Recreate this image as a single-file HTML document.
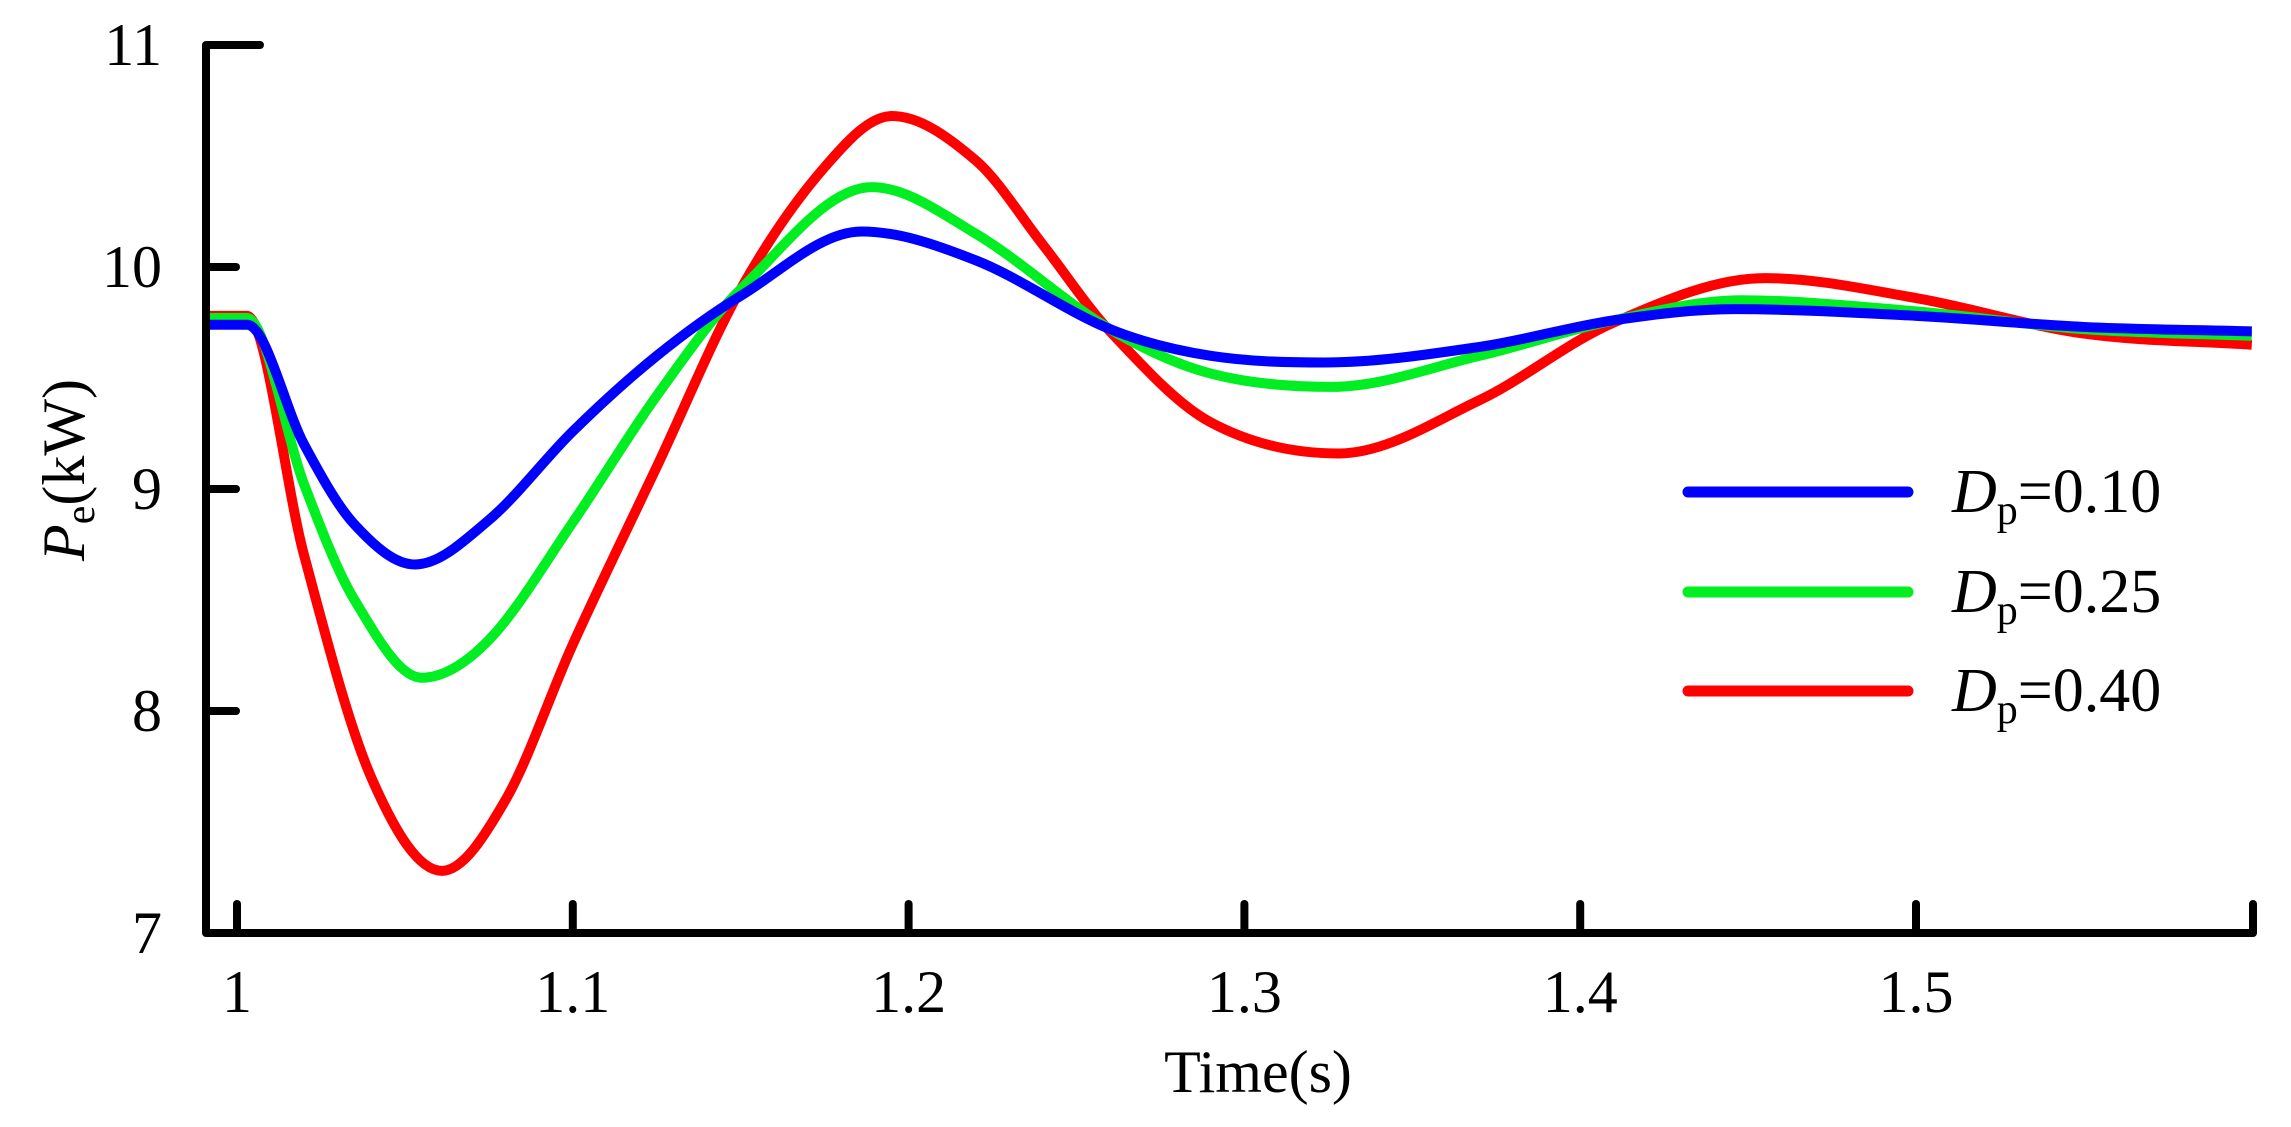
<!DOCTYPE html>
<html><head><meta charset="utf-8">
<style>
html,body{margin:0;padding:0;background:#fff;}
svg{display:block;font-family:"Liberation Serif",serif;}
</style></head>
<body>
<svg id="chart" width="2291" height="1127" viewBox="0 0 2291 1127" xmlns="http://www.w3.org/2000/svg">
<g id="series"></g>
<g id="axes"></g>
<g id="legend"></g>
<text x="1258" y="1092" font-size="60" text-anchor="middle">Time(s)</text>
<text transform="translate(84,470) rotate(-90)" font-size="60" text-anchor="middle"><tspan font-style="italic">P</tspan><tspan font-size="42" dy="10">e</tspan><tspan dy="-10">(kW)</tspan></text>
</svg>
<script>
const xTicks=[1,1.1,1.2,1.3,1.4,1.5,1.6];
const xTickLabels=["1","1.1","1.2","1.3","1.4","1.5",""];
const yTicks=[7,8,9,10,11];
const yTickLabels=["7","8","9","10","11"];
const legendValues=["0.10","0.25","0.40"];
const colors=["#0000ff","#00ee22","#ff0000"];
const tBlue=[0.991,1.003,1.02,1.035,1.053,1.075,1.1,1.125,1.15,1.186,1.22,1.26,1.29,1.324,1.37,1.41,1.446,1.5,1.55,1.6];
const vBlue=[9.74,9.74,9.2,8.84,8.66,8.86,9.26,9.6,9.87,10.16,10.03,9.72,9.6,9.57,9.64,9.76,9.81,9.78,9.73,9.71];
const tGreen=[0.991,1.003,1.02,1.035,1.055,1.075,1.1,1.125,1.15,1.189,1.22,1.26,1.29,1.326,1.37,1.41,1.448,1.5,1.55,1.6];
const vGreen=[9.77,9.77,9.02,8.5,8.15,8.32,8.85,9.42,9.9,10.36,10.15,9.72,9.52,9.46,9.6,9.76,9.85,9.8,9.72,9.69];
const tRed=[0.991,1.003,1.02,1.04,1.061,1.08,1.1,1.125,1.15,1.175,1.195,1.22,1.24,1.26,1.29,1.328,1.37,1.41,1.455,1.5,1.55,1.6];
const vRed=[9.78,9.78,8.7,7.7,7.28,7.6,8.3,9.1,9.9,10.45,10.68,10.48,10.1,9.71,9.3,9.16,9.4,9.75,9.95,9.86,9.7,9.65];

const NS="http://www.w3.org/2000/svg";
const X0=237,XS=3358,Y0=933,YS=222;
function xScale(t){return X0+(t-1)*XS;}
function yScale(v){return Y0-(v-7)*YS;}
function mk(tag,attrs,parent){const e=document.createElementNS(NS,tag);for(const k in attrs)e.setAttribute(k,attrs[k]);parent.appendChild(e);return e;}

function smoothPath(xs,ys){
  const n=xs.length,m=[];
  for(let i=0;i<n;i++){
    if(i<2){m[i]=0;continue;}
    if(i===n-1){m[i]=(ys[i]-ys[i-1])/(xs[i]-xs[i-1]);continue;}
    const d0=ys[i]-ys[i-1],d1=ys[i+1]-ys[i];
    if(d0*d1<=0){m[i]=0;continue;}
    m[i]=(ys[i+1]-ys[i-1])/(xs[i+1]-xs[i-1]);
  }
  let p="M"+xs[0]+","+ys[0];
  for(let i=0;i<n-1;i++){const h=(xs[i+1]-xs[i])/3;p+=" C"+(xs[i]+h)+","+(ys[i]+m[i]*h)+" "+(xs[i+1]-h)+","+(ys[i+1]-m[i+1]*h)+" "+xs[i+1]+","+ys[i+1];}
  return p;
}
const sg=document.getElementById('series');
const allT=[tBlue,tGreen,tRed],allV=[vBlue,vGreen,vRed];
const sNames=['series-dp-0.10','series-dp-0.25','series-dp-0.40'];
[2,1,0].forEach(i=>{
  const xs=allT[i].map(xScale),ys=allV[i].map(yScale);
  const p=mk('path',{d:smoothPath(xs,ys),fill:'none',stroke:colors[i],'stroke-width':10,'stroke-linejoin':'round'},sg);
  
  
});

const ax=document.getElementById('axes');
const yl=mk('path',{d:"M260,45 L206,45 L206,933 L2253,933 L2253,904",fill:'none',stroke:'#000','stroke-width':8,'stroke-linecap':'round','stroke-linejoin':'round'},ax);


yTicks.forEach((v,i)=>{
  const y=yScale(v);
  if(v>7&&v<11){const t=mk('line',{x1:206,y1:y,x2:236,y2:y,stroke:'#000','stroke-width':8,'stroke-linecap':'round'},ax);
  
  }
  const l=mk('text',{x:162,y:y+20,'font-size':60,'text-anchor':'end'},ax);l.textContent=yTickLabels[i];
  
  
});
xTicks.forEach((v,i)=>{
  const x=xScale(v);
  if(v<1.6){const t=mk('line',{x1:x,y1:933,x2:x,y2:904,stroke:'#000','stroke-width':8,'stroke-linecap':'round'},ax);
  
  }
  if(xTickLabels[i]){const l=mk('text',{x:x,y:1012,'font-size':60,'text-anchor':'middle'},ax);l.textContent=xTickLabels[i];
  
  }
});

const lg=document.getElementById('legend');
const ly=[492,592,691];
[0,1,2].forEach(i=>{
  const l=mk('line',{x1:1688,y1:ly[i],x2:1908,y2:ly[i],stroke:colors[i],'stroke-width':11,'stroke-linecap':'round'},lg);
  
  
  const t=mk('text',{x:1952,y:ly[i]+20,'font-size':62},lg);
  
  
  const a=mk('tspan',{'font-style':'italic'},t);a.textContent='D';
  const b=mk('tspan',{'font-size':42,dy:12},t);b.textContent='p';
  const c=mk('tspan',{dy:-12},t);c.textContent='='+legendValues[i];
});
</script>
</body></html>
